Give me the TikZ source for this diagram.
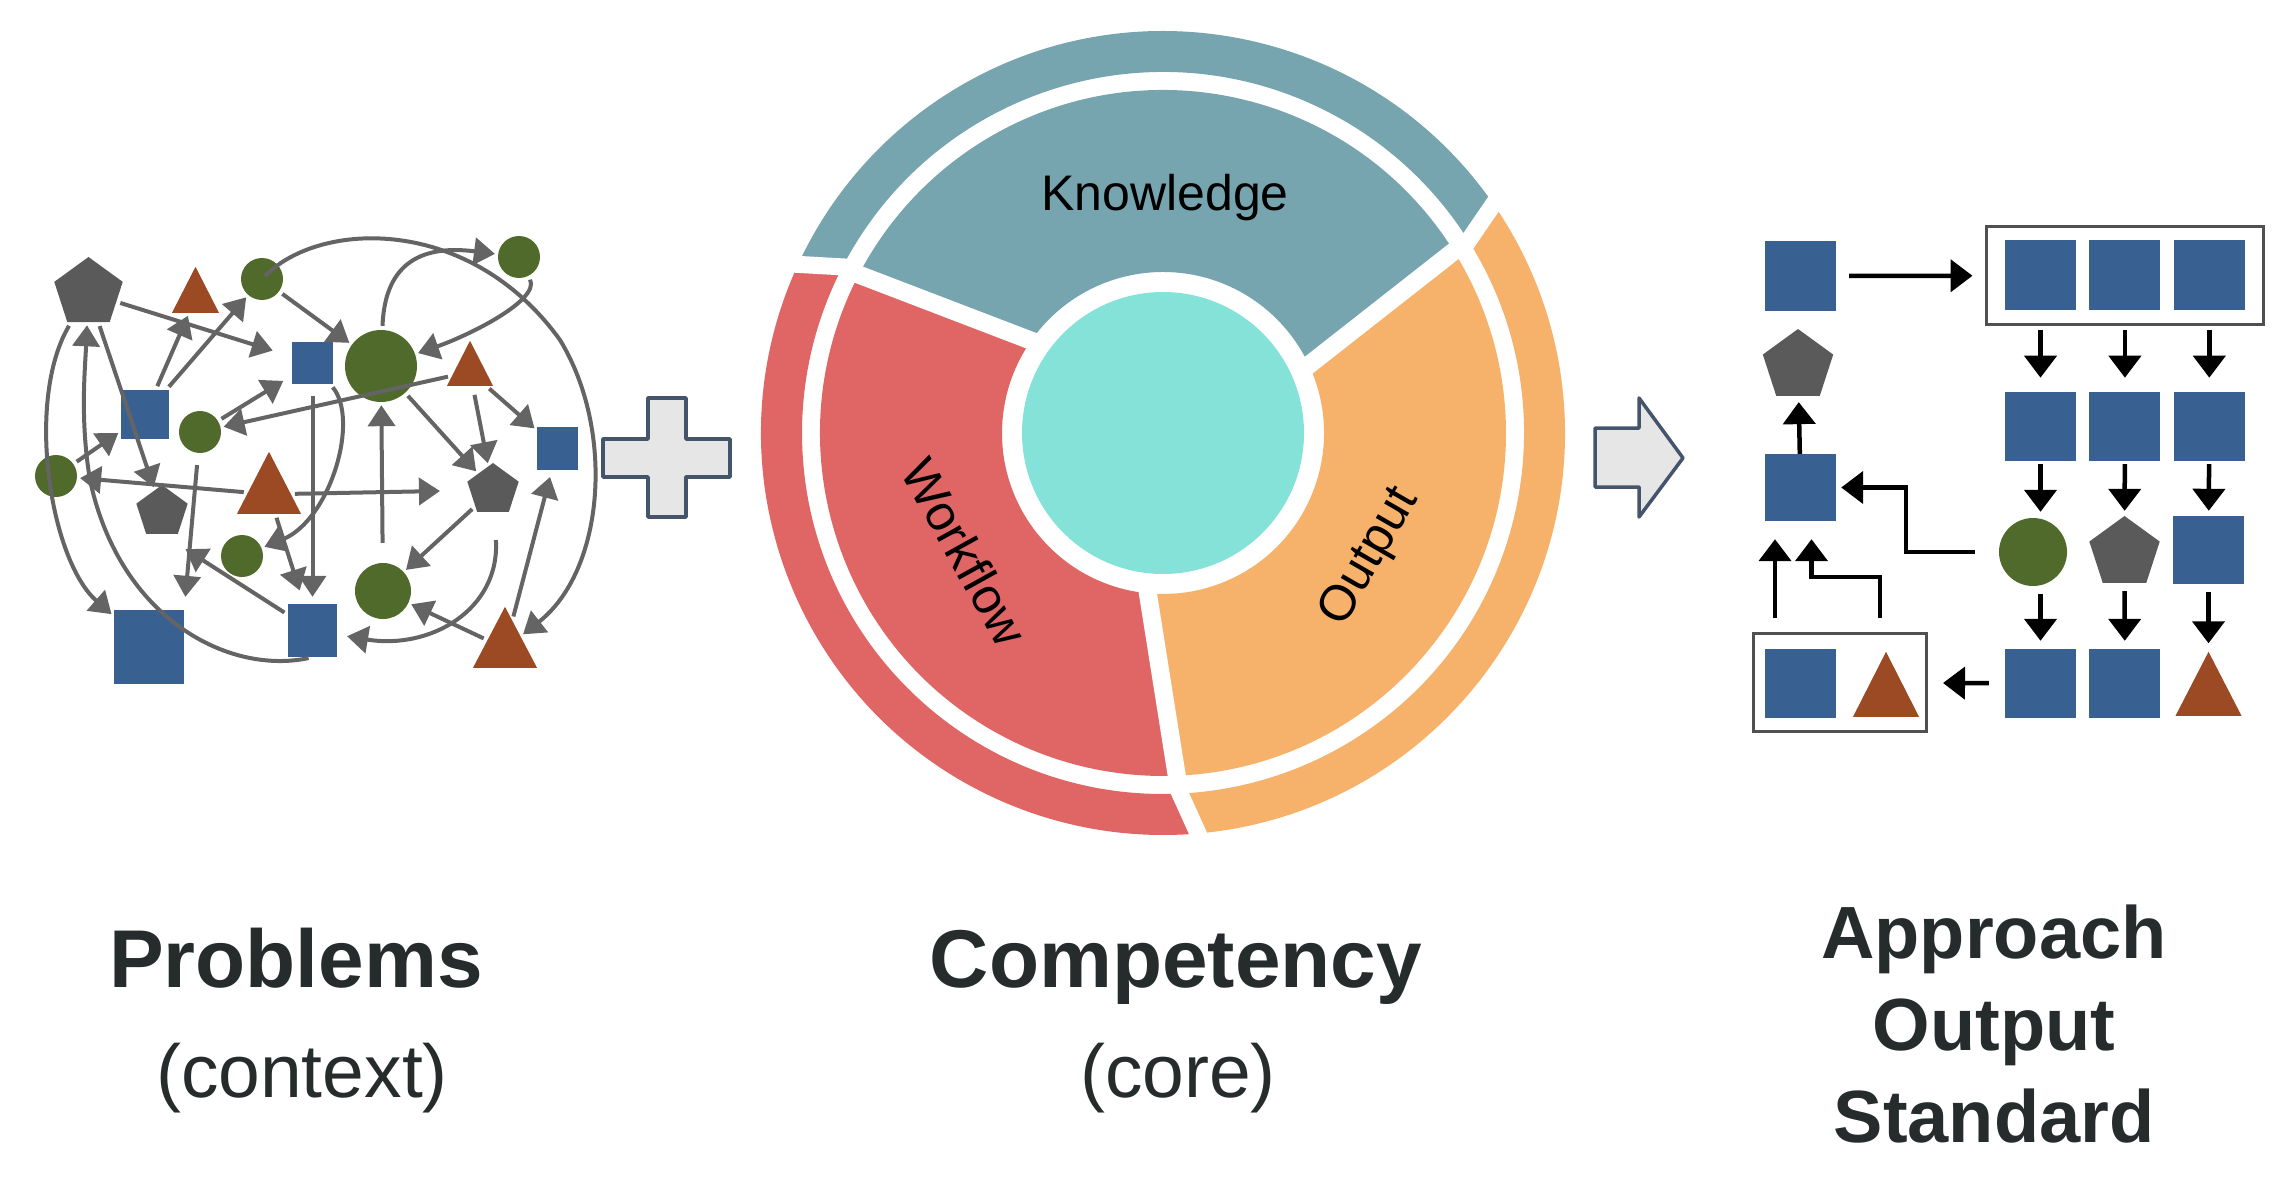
\documentclass[tikz,border=0pt]{standalone}
\usepackage{fontspec}
\setmainfont{Liberation Sans}
\usepackage{tikz}
\usetikzlibrary{arrows.meta,positioning,shapes.geometric,calc}
\definecolor{probblue}{HTML}{386192}
\definecolor{probgreen}{HTML}{4F6A2A}
\definecolor{probrust}{HTML}{9C4A23}
\definecolor{probgray}{HTML}{5A5A5A}
\definecolor{problink}{HTML}{646464}
\definecolor{ringknow}{HTML}{76A5AF}
\definecolor{ringwork}{HTML}{E06666}
\definecolor{ringout}{HTML}{F6B26B}
\definecolor{ringcore}{HTML}{85E2D8}
\definecolor{signfill}{HTML}{E6E6E6}
\definecolor{signline}{HTML}{44546A}
\definecolor{capdark}{HTML}{262C2C}
\definecolor{boxline}{HTML}{505050}
\tikzset{
  netsq/.style={rectangle, fill=probblue, inner sep=0pt},
  netdot/.style={circle, fill=probgreen, inner sep=0pt},
  netpent/.style={regular polygon, regular polygon sides=5, fill=probgray, inner sep=0pt},
  nettri/.style={isosceles triangle, isosceles triangle stretches, shape border rotate=90,
    fill=probrust, inner sep=0pt, anchor=south},
  netlink/.style={-{Triangle[length=21pt,width=27pt]}, line width=4pt, draw=problink,
    shorten <=4pt, shorten >=3pt},
  flowsq/.style={netsq, minimum width=71pt, minimum height=69pt},
  flowarrow/.style={-{Triangle[length=22pt,width=32pt]}, line width=4.5pt, draw=black},
  groupbox/.style={rectangle, draw=boxline, line width=3pt, inner sep=0pt},
  bigtitle/.style={font=\bfseries\fontsize{82}{90}\selectfont, text=capdark, anchor=base},
  stdtitle/.style={font=\bfseries\fontsize{74}{84}\selectfont, text=capdark, anchor=base},
  subtitle/.style={font=\fontsize{75}{84}\selectfont, text=capdark, anchor=base},
  ringlabel/.style={font=\fontsize{50}{60}\selectfont, text=black},
  signshape/.style={fill=signfill, draw=signline, line width=3.5pt, line join=round}
}

\begin{document}
\begin{tikzpicture}[x=1pt, y=-1pt]
\useasboundingbox (0,0) rectangle (2296,1182);

% problems: tangled network
\node[netpent, minimum size=72pt] (p1) at (88.5,293) {};
\node[nettri, minimum width=47pt, minimum height=46pt] (t2) at (195.5,313) {};
\node[netdot, minimum size=42pt] (c3) at (262,279) {};
\node[netdot, minimum size=42pt] (c4) at (519,257) {};
\node[netsq, minimum width=41pt, minimum height=42pt] (s5) at (312.5,363) {};
\node[netdot, minimum size=72pt] (c6) at (381,366) {};
\node[nettri, minimum width=46pt, minimum height=45pt] (t7) at (470,386) {};
\node[netsq, minimum width=48pt, minimum height=49pt] (s8) at (145,414.5) {};
\node[netdot, minimum size=42pt] (c9) at (200,432) {};
\node[netsq, minimum width=41pt, minimum height=43pt] (s10) at (557.5,448.5) {};
\node[netdot, minimum size=42pt] (c11) at (56,476) {};
\node[nettri, minimum width=64pt, minimum height=62pt] (t12) at (269,514) {};
\node[netpent, minimum size=54pt] (p13) at (162,512) {};
\node[netpent, minimum size=54pt] (p14) at (493,490) {};
\node[netdot, minimum size=42pt] (c15) at (242,556) {};
\node[netdot, minimum size=56pt] (c16) at (383,591) {};
\node[netsq, minimum width=70pt, minimum height=74pt] (s17) at (149,647) {};
\node[netsq, minimum width=49pt, minimum height=53pt] (s18) at (312.5,630.5) {};
\node[nettri, minimum width=64pt, minimum height=61pt] (t19) at (505,668) {};

\draw[netlink, shorten >=20pt] (p1) -- (s5);
\draw[netlink] (s8) -- (t2);
\draw[netlink] (s8) -- (c3);
\draw[netlink] (c3.center) .. controls (320,220) and (470,215) .. (560,340)
  .. controls (615,430) and (605,570) .. (t19);
\draw[netlink] (c3) -- (c6);
\draw[netlink] (c6) .. controls (385,260) and (425,245) .. (c4);
\draw[netlink] (c4) .. controls (540,300) and (470,335) .. (c6);
\draw[netlink, shorten >=10pt] (c9) -- (s5);
\draw[netlink] (t7) -- (c9);
\draw[netlink] (t7) -- (s10);
\draw[netlink] (c6) -- (p14);
\draw[netlink, shorten <=9pt] (t7) -- (p14);
\draw[netlink] (t12) -- (c11);
\draw[netlink] (c11) -- (s8);
\draw[netlink] (p1) -- (p13);
\draw[netlink] (p1) .. controls (25,400) and (50,560) .. (s17);
\draw[netlink] (s18.south) .. controls (230,675) and (120,620) .. (90,480)
  .. controls (80,420) and (85,370) .. (p1);
\draw[netlink, shorten <=12pt, shorten >=13pt] (c9) -- (s17.north east);
\draw[netlink, shorten >=28pt] (s18) -- (p13.south);
\draw[netlink, shorten >=14pt] (t12) -- (s18);
\draw[netlink, shorten <=12pt, shorten >=7pt] (s5) -- (s18);
\draw[netlink] (s5) .. controls (360,420) and (330,520) .. (c15);
\draw[netlink, shorten >=30pt] (t12) -- (p14);
\draw[netlink, shorten <=20pt] (c16) -- (c6);
\draw[netlink] (p14) -- (c16);
\draw[netlink, shorten <=28pt, shorten >=10pt] (p14) .. controls (500,610) and (430,650) .. (s18);
\draw[netlink] (t19) -- (c16);
\draw[netlink, shorten >=7pt] (t19) -- (s10);

% plus sign
\draw[signshape] (603,439) -- (648,439) -- (648,398) -- (686,398) -- (686,439) -- (730,439)
  -- (730,477) -- (686,477) -- (686,517) -- (648,517) -- (648,477) -- (603,477) -- cycle;

% competency ring
\begin{scope}[shift={(1163,433)}, yscale=-1]
  \fill[ringknow] (25:161) -- (32:343) arc[start angle=32, end angle=152.5, radius=343]
    -- (145:161) arc[start angle=145, end angle=25, radius=161] -- cycle;
  \fill[ringwork] (145:161) -- (152.5:343) arc[start angle=152.5, end angle=272.3, radius=343]
    -- (264.6:161) arc[start angle=264.6, end angle=145, radius=161] -- cycle;
  \fill[ringout] (264.6:161) -- (272.3:343) arc[start angle=272.3, end angle=392, radius=343]
    -- (385:161) arc[start angle=385, end angle=264.6, radius=161] -- cycle;
  \fill[ringknow] (32.2:361) -- (34.7:402) arc[start angle=34.7, end angle=155.2, radius=402]
    -- (152.6:361) arc[start angle=152.6, end angle=32.2, radius=361] -- cycle;
  \fill[ringwork] (152.6:361) -- (155.2:402) arc[start angle=155.2, end angle=275, radius=402]
    -- (272.7:361) arc[start angle=272.7, end angle=152.6, radius=361] -- cycle;
  \fill[ringout] (272.7:361) -- (275:402) arc[start angle=275, end angle=394.7, radius=402]
    -- (392.2:361) arc[start angle=392.2, end angle=272.7, radius=361] -- cycle;
  \foreach \a/\b in {25/32, 145/152.5, 264.6/272.3}
    \draw[white, line width=18pt] ($(\a:161)!-0.05!(\b:343)$) -- ($(\b:343)!-0.05!(\a:161)$);
  \foreach \a/\b in {32.2/34.7, 152.6/155.2, 272.7/275}
    \draw[white, line width=17pt] ($(\a:361)!-0.2!(\b:402)$) -- ($(\b:402)!-0.3!(\a:361)$);
  \fill[ringcore] (0,0) circle[radius=141];
\end{scope}
\node[ringlabel, anchor=base] (know) at (1165,211) {Knowledge};
\node[ringlabel, rotate=-61] (work) at (965,552) {Workflow};
\node[ringlabel, rotate=60] (outp) at (1370,557) {Output};

% arrow sign
\draw[signshape] (1595,428) -- (1639,428) -- (1639,398) -- (1683,458) -- (1639,517)
  -- (1639,487) -- (1595,487) -- cycle;

% approach: orderly flow
\node[flowsq] (fsA) at (1800.5,276) {};
\node[groupbox, minimum width=277pt, minimum height=98pt] (topbox) at (2124.5,275.5) {};
\node[flowsq] (tr1) at (2040.5,275) {};
\node[flowsq, right=13pt of tr1] (tr2) {};
\node[flowsq, right=13pt of tr2] (tr3) {};
\node[flowsq, below=82pt of tr1] (m1) {};
\node[flowsq, below=82pt of tr2] (m2) {};
\node[flowsq, below=82pt of tr3] (m3) {};
\node[netdot, minimum size=68pt] (r3c1) at (2033,552) {};
\node[netpent, minimum size=74pt] (r3c2) at (2124.5,553) {};
\node[flowsq, minimum height=68pt] (r3c3) at (2208.5,550) {};
\node[flowsq] (b1) at (2040.5,683.5) {};
\node[flowsq, right=13pt of b1] (b2) {};
\node[nettri, minimum width=66pt, minimum height=64pt] (b3) at (2208.5,716) {};
\node[groupbox, minimum width=173pt, minimum height=98pt] (botbox) at (1840,682.5) {};
\node[flowsq] (bsq) at (1800.5,683.5) {};
\node[nettri, minimum width=66pt, minimum height=65pt] (btri) at (1886,717) {};
\node[flowsq, minimum height=67pt] (sqB) at (1800.5,487.5) {};
\node[netpent, minimum size=74pt] (lpent) at (1798,366) {};
\coordinate (upL) at (1775,618);
\coordinate (upR) at (1880,618);

\draw[flowarrow, shorten <=13pt, shorten >=12pt] (fsA) -- (topbox);
\foreach \u/\v in {tr1/m1, tr2/m2, tr3/m3}
  \draw[flowarrow, shorten <=20pt, shorten >=14pt] (\u) -- (\v);
\draw[flowarrow, shorten <=3pt, shorten >=6pt] (m1) -- (m1 |- r3c1.north);
\draw[flowarrow, shorten <=3pt, shorten >=5pt] (m2) -- (r3c2);
\draw[flowarrow, shorten <=3pt, shorten >=5pt] (m3) -- (r3c3);
\draw[flowarrow, shorten <=8pt, shorten >=8pt] (b1 |- r3c1.south) -- (b1);
\draw[flowarrow, shorten <=8pt, shorten >=8pt] (r3c2) -- (b2);
\draw[flowarrow, shorten <=8pt, shorten >=8pt] (r3c3) -- (b3);
\draw[flowarrow, shorten <=16pt, shorten >=15pt] (b1) -- (botbox);
\draw[flowarrow, shorten >=6pt] (sqB) -- (lpent);
\draw[flowarrow, shorten <=24pt, shorten >=5pt] (r3c1.west) -- ++(-93,0) |- (sqB.east);
\draw[flowarrow, shorten >=18pt] (upL) -- (upL |- sqB.south);
\draw[flowarrow, shorten >=18pt] (upR) -- ++(0,-41) -| ([xshift=11pt]sqB.south);

% captions
\node[bigtitle] (probname) at (296,987) {Problems};
\node[subtitle] (probnote) at (302,1097) {(context)};
\node[bigtitle] (compname) at (1176,987) {Competency};
\node[subtitle] (compnote) at (1178,1097) {(core)};
\node[stdtitle] (apprA) at (1994,958) {Approach};
\node[stdtitle] (apprB) at (1994,1050) {Output};
\node[stdtitle] (apprC) at (1994,1142) {Standard};
\end{tikzpicture}
\end{document}
